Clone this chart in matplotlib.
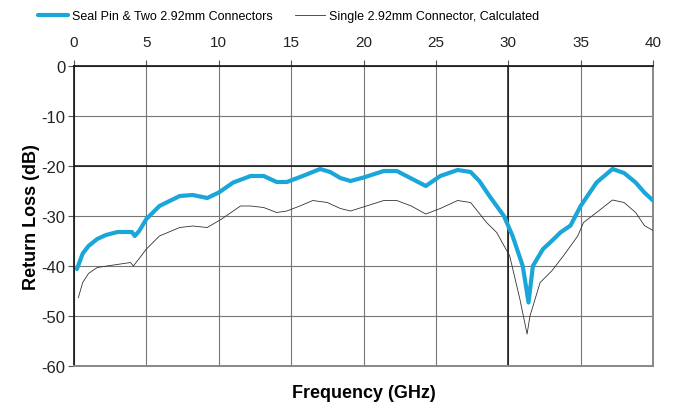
import numpy as np
import matplotlib.pyplot as plt

plt.rcParams['font.family'] = ['Liberation Sans', 'DejaVu Sans']
plt.rcParams['axes.unicode_minus'] = False

# Seal Pin & Two 2.92mm Connectors (measured)
f_seal = [0.2, 0.6, 1.0, 1.6, 2.2, 3.0, 4.0, 4.2, 4.5, 5.0, 5.9, 7.3, 8.2, 9.2, 10.0,
          11.0, 12.2, 13.1, 14.0, 14.7, 15.8, 17.0, 17.7, 18.4, 19.1, 20.0, 21.4,
          22.3, 23.3, 24.3, 25.3, 26.5, 27.4, 28.0, 28.7, 29.7, 30.3, 31.0, 31.4,
          31.7, 32.4, 33.0, 33.6, 34.3, 35.0, 36.1, 37.2, 38.0, 38.8, 39.4, 40.0]
rl_seal = [-40.6, -37.5, -36.0, -34.6, -33.8, -33.2, -33.2, -34.0, -33.0, -30.6, -28.0, -26.0,
           -25.8, -26.4, -25.3, -23.3, -22.0, -22.0, -23.2, -23.2, -22.0, -20.6, -21.2,
           -22.4, -23.0, -22.3, -21.0, -21.0, -22.5, -24.0, -22.0, -20.8, -21.2, -23.0,
           -26.0, -30.0, -34.0, -40.0, -47.3, -40.0, -36.6, -35.0, -33.3, -31.9, -28.0,
           -23.3, -20.6, -21.4, -23.3, -25.3, -26.9]

# Single 2.92mm Connector, Calculated
f_calc = [0.3, 0.6, 1.0, 1.6, 2.5, 3.9, 4.1, 4.5, 5.0, 5.9, 7.3, 8.2, 9.2, 10.2, 11.5,
          12.2, 13.1, 14.0, 14.7, 15.6, 16.5, 17.5, 18.4, 19.1, 20.2, 21.4, 22.3, 23.3,
          24.3, 25.3, 26.5, 27.4, 28.5, 29.2, 30.1, 30.8, 31.3, 31.5, 32.2, 33.0, 33.8,
          34.8, 35.2, 36.1, 37.2, 38.0, 38.8, 39.4, 40.0]
rl_calc = [-46.3, -43.3, -41.5, -40.3, -39.9, -39.3, -40.0, -38.5, -36.6, -34.0, -32.3, -32.0,
           -32.3, -30.6, -28.0, -28.0, -28.3, -29.3, -29.0, -28.0, -26.9, -27.3, -28.5,
           -29.0, -28.0, -26.9, -26.9, -28.0, -29.6, -28.5, -26.9, -27.3, -31.3, -33.3,
           -38.0, -46.6, -53.6, -50.0, -43.3, -41.0, -38.0, -34.0, -31.3, -29.3, -26.8,
           -27.3, -29.3, -31.9, -32.9]

fig = plt.figure(figsize=(6.76, 4.06), dpi=100)
ax = fig.add_axes([0.1095, 0.096, 0.8565, 0.739])

ax.plot(f_seal, rl_seal, color='#1aa6d8', lw=3.0, solid_capstyle='round',
        label='Seal Pin & Two 2.92mm Connectors', zorder=4)
ax.plot(f_calc, rl_calc, color='#333333', lw=0.6,
        label='Single 2.92mm Connector, Calculated', zorder=3)

ax.set_xlim(0, 40)
ax.set_ylim(-60, 0)
ax.set_xticks(np.arange(0, 41, 5))
ax.set_yticks(np.arange(-60, 1, 10))
ax.xaxis.tick_top()
ax.tick_params(axis='x', length=4, color='#555555', labelsize=11, pad=8, labelcolor='#222222')
ax.tick_params(axis='y', length=4, color='#555555', labelsize=12, pad=2, labelcolor='#222222')

ax.grid(True, color='#777777', lw=0.8)
ax.axhline(-20, color='#111111', lw=1.1, zorder=2)
ax.axvline(30, color='#111111', lw=1.1, zorder=2)

for s in ['top', 'left']:
    ax.spines[s].set_color('#111111')
    ax.spines[s].set_linewidth(1.2)
for s in ['bottom', 'right']:
    ax.spines[s].set_color('#888888')
    ax.spines[s].set_linewidth(1.4)

ax.set_ylabel('Return Loss (dB)', fontsize=13, fontweight='bold', labelpad=1)
fig.text(0.538, 0.01, 'Frequency (GHz)', ha='center', va='bottom', fontsize=13,
         fontweight='bold')

fig.legend(loc='upper left', bbox_to_anchor=(0.04, 1.0), ncol=2, frameon=False,
           fontsize=9, handlelength=2.4, handletextpad=0.3, columnspacing=1.8)

fig.savefig('out.png', dpi=100)
